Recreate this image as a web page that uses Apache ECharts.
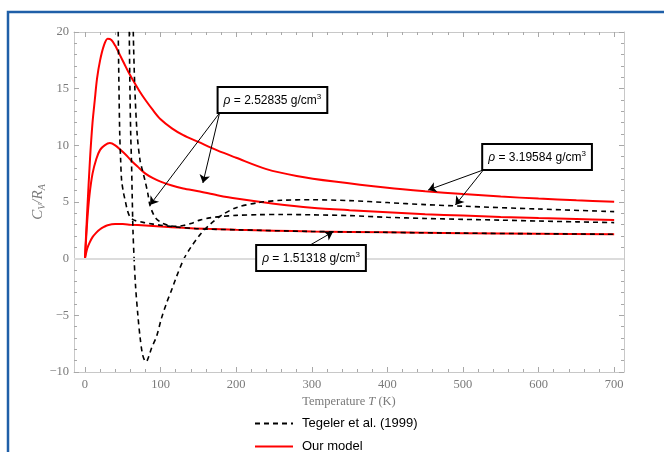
<!DOCTYPE html>
<html>
<head>
<meta charset="utf-8">
<script src="https://cdn.jsdelivr.net/npm/echarts@6/dist/echarts.min.js"></script>
<style>html,body{margin:0;padding:0;background:#fff}#main{width:664px;height:452px}</style>
</head>
<body>
<div id="main"></div>
<script>
const myChart = echarts.init(document.getElementById('main'));

// tick labels
const xTicks = [0, 100, 200, 300, 400, 500, 600, 700];
const xMinorTicks = [];
for (let t = 20; t < 700; t += 20) { if (t % 100 !== 0) xMinorTicks.push(t); }

// Our model (red) - temperature / Cv/R
const redHighT = [0, 3, 6.6, 10, 13, 16, 20, 25, 30, 35, 40, 46, 52, 58, 64, 72, 80, 90, 100, 115, 130, 150, 175, 200, 240, 280, 330, 400, 450, 500, 550, 600, 650, 700];
const redHighC = [0, 4.2, 8.7, 12, 14, 15.9, 17.5, 18.8, 19.4, 19.3, 18.8, 18.0, 17.2, 16.4, 15.7, 14.8, 14.0, 13.1, 12.3, 11.5, 10.9, 10.3, 9.55, 8.9, 7.9, 7.3, 6.8, 6.25, 5.95, 5.7, 5.48, 5.3, 5.15, 5.03];
const redMidT = [0, 3, 6, 10, 15, 20, 26, 33, 40, 47, 55, 62, 70, 80, 90, 100, 115, 130, 150, 175, 200, 250, 300, 350, 400, 450, 500, 550, 600, 650, 700];
const redMidC = [0, 3.3, 5.6, 7.5, 8.8, 9.6, 10.0, 10.2, 10.0, 9.6, 9.1, 8.6, 8.1, 7.5, 7.1, 6.8, 6.45, 6.2, 5.95, 5.6, 5.3, 4.85, 4.5, 4.28, 4.1, 3.93, 3.8, 3.68, 3.58, 3.5, 3.42];
const redLowT = [0, 3, 6, 10, 15, 20, 25, 30, 40, 50, 60, 80, 100, 130, 160, 200, 250, 300, 400, 500, 600, 700];
const redLowC = [0, 0.9, 1.4, 1.9, 2.3, 2.6, 2.8, 2.95, 3.05, 3.05, 3.0, 2.92, 2.83, 2.72, 2.63, 2.55, 2.47, 2.4, 2.32, 2.25, 2.2, 2.15];

// Tegeler et al. (black dashed)
const tegLowT = [43.3, 44, 45, 46, 47.2, 48.5, 51, 53, 56, 59.5, 65, 77, 90, 100, 120, 150, 200, 300, 400, 500, 600, 700];
const tegLowC = [24, 20, 15, 11, 8.7, 6.9, 5.8, 5.2, 4.3, 3.7, 3.4, 3.2, 3.05, 2.95, 2.8, 2.64, 2.55, 2.4, 2.32, 2.25, 2.2, 2.15];
const tegHighT = [58, 58.6, 59.5, 60.5, 61.5, 62.5, 63.5, 65, 67, 70, 73, 76, 79, 81, 84, 88, 95, 101, 108, 115, 121, 131, 140, 152, 165, 180, 200, 230, 260, 300, 350, 400, 450, 500, 600, 700];
const tegHighC = [24, 20, 15, 11, 8.7, 5.5, 2.5, 0, -2.5, -5, -7, -8.4, -9.0, -9.1, -8.7, -7.9, -6.8, -5.3, -3.9, -2.7, -1.6, 0, 1.0, 2.1, 3.0, 3.8, 4.5, 4.95, 5.15, 5.2, 5.12, 4.95, 4.77, 4.63, 4.38, 4.15];
const tegMidT = [63.4, 63.9, 66, 69, 72.8, 76, 79.4, 83, 86, 90, 94, 99, 105, 112, 121, 130, 140, 152, 165, 180, 200, 230, 260, 300, 350, 400, 450, 500, 550, 600, 650, 700];
const tegMidC = [24, 20, 15, 11, 8.7, 7.8, 6.9, 5.8, 4.7, 4.0, 3.55, 3.27, 3.05, 2.9, 2.85, 2.92, 3.1, 3.4, 3.6, 3.72, 3.82, 3.88, 3.9, 3.87, 3.8, 3.65, 3.55, 3.47, 3.4, 3.32, 3.25, 3.18];

function zip(t, c) { return t.map((x, i) => [x, c[i]]); }

const labelFont = 'Liberation Serif';
const frameColor = '#c8c8c8';
const tickColor = '#a8a8a8';

function xAxisCfg(pos, ticks, len, main) {
  return {
    type: 'value', position: pos, min: -14.5, max: 713,
    axisLine: { show: main, onZero: false, lineStyle: { color: frameColor, width: 1 } },
    axisTick: { show: true, inside: true, length: len, customValues: ticks, lineStyle: { color: tickColor } },
    axisLabel: { show: false },
    splitLine: { show: false }
  };
}

const redStyle = { color: '#ff0000', width: 2 };
const dashStyle = { color: '#000', width: 1.6, type: [5, 4] };

function curve(name, data, style) {
  return {
    name: name, type: 'line', data: data, showSymbol: false, symbol: 'none',
    smooth: 0.3, lineStyle: style, itemStyle: { color: style.color },
    z: style === redStyle ? 3 : 4, silent: true
  };
}

const boxLabel = {
  show: true, position: 'inside', color: '#000', fontSize: 12, fontFamily: 'Liberation Sans',
  backgroundColor: '#fff', borderColor: '#000', borderWidth: 2, padding: [5, 5, 4, 5],
  rich: {
    i: { fontStyle: 'italic', fontSize: 12, fontFamily: 'Liberation Sans', color: '#000' },
    s: { fontSize: 8, fontFamily: 'Liberation Sans', color: '#000', padding: [0, 0, 7, 0] }
  }
};

const minus = v => String(v).replace('-', '\u2212');

const bottomX = xAxisCfg('bottom', xTicks, 5, true);
bottomX.axisLabel = { show: true, customValues: xTicks, color: '#7a7a7a', fontSize: 12.5, fontFamily: labelFont, margin: 6 };
bottomX.name = 'Temperature {it|T} (K)';
bottomX.nameLocation = 'middle';
bottomX.nameGap = 23;
bottomX.nameMoveOverlap = false;
bottomX.nameTextStyle = {
  color: '#7a7a7a', fontSize: 12.5, fontFamily: labelFont,
  rich: { it: { fontStyle: 'italic', fontSize: 12.5, fontFamily: labelFont, color: '#7a7a7a' } }
};

function yAxisCfg(pos, labels) {
  return {
    type: 'value', position: pos, min: -10, max: 20, interval: 5,
    axisLine: { show: true, onZero: false, lineStyle: { color: frameColor, width: 1 } },
    axisTick: { show: true, inside: true, length: 5, lineStyle: { color: tickColor } },
    minorTick: { show: true, splitNumber: 5, length: 3, lineStyle: { color: tickColor } },
    axisLabel: { show: labels, color: '#7a7a7a', fontSize: 12.5, fontFamily: labelFont, margin: 5, formatter: minus },
    splitLine: { show: false }
  };
}
const leftY = yAxisCfg('left', true);
leftY.name = '{it|C}{sub|V}{it|/R}{sub|A}';
leftY.nameLocation = 'middle';
leftY.nameGap = 27;
leftY.nameMoveOverlap = false;
leftY.nameTextStyle = {
  color: '#7a7a7a',
  rich: {
    it: { fontStyle: 'italic', fontSize: 15, fontFamily: labelFont, color: '#7a7a7a' },
    sub: { fontStyle: 'italic', fontSize: 10, fontFamily: labelFont, color: '#7a7a7a', padding: [7, 0, 0, 0] }
  }
};

const option = {
  backgroundColor: '#fff',
  animation: false,
  grid: { left: 74, top: 32, right: 40, bottom: 80, containLabel: false },
  legend: {
    data: ['Tegeler et al. (1999)', 'Our model'],
    orient: 'vertical', left: 254, top: 417, height: 60, padding: 0,
    itemWidth: 38, itemHeight: 14, itemGap: 10,
    itemStyle: { opacity: 0 },
    textStyle: { fontSize: 13, fontFamily: 'Liberation Sans', color: '#000', padding: [0, 0, 0, 4] }
  },
  xAxis: [
    bottomX,
    xAxisCfg('bottom', xMinorTicks, 3, false),
    xAxisCfg('top', xTicks, 5, true),
    xAxisCfg('top', xMinorTicks, 3, false)
  ],
  yAxis: [leftY, yAxisCfg('right', false)],
  series: [
    // horizontal line at zero
    {
      name: 'zero', type: 'line', data: [], z: 1, silent: true,
      markLine: {
        silent: true, symbol: 'none', label: { show: false },
        lineStyle: { color: '#dcdcdc', width: 2, type: 'solid' },
        data: [{ yAxis: 0 }]
      }
    },
    curve('Our model', zip(redHighT, redHighC), redStyle),
    curve('Our model', zip(redMidT, redMidC), redStyle),
    curve('Our model', zip(redLowT, redLowC), redStyle),
    curve('Tegeler et al. (1999)', zip(tegLowT, tegLowC), dashStyle),
    curve('Tegeler et al. (1999)', zip(tegHighT, tegHighC), dashStyle),
    curve('Tegeler et al. (1999)', zip(tegMidT, tegMidC), dashStyle),
    // annotation boxes and arrows
    {
      name: 'notes', type: 'line', data: [], z: 10, silent: true,
      markPoint: {
        silent: true, symbol: 'circle', symbolSize: 1, itemStyle: { color: 'rgba(0,0,0,0)' },
        label: boxLabel,
        data: [
          { coord: [248, 14.0], label: { formatter: '{i|ρ} = 2.52835 g/cm{s|3}' } },
          { coord: [598, 8.98], label: { formatter: '{i|ρ} = 3.19584 g/cm{s|3}' } },
          { coord: [299, 0.06], label: { formatter: '{i|ρ} = 1.51318 g/cm{s|3}' } }
        ]
      },
      markLine: {
        silent: true, symbol: ['none', 'arrow'], symbolSize: 8, label: { show: false },
        lineStyle: { color: '#000', width: 1, type: 'solid' },
        data: [
          [{ coord: [178, 12.85] }, { coord: [86, 4.74] }],
          [{ coord: [178, 12.85] }, { coord: [156, 6.68] }],
          [{ coord: [527, 7.83] }, { coord: [454, 6.06] }],
          [{ coord: [527, 7.83] }, { coord: [490, 4.74] }],
          [{ coord: [298, 1.21] }, { coord: [328, 2.36] }]
        ]
      }
    }
  ],
  graphic: [{
    type: 'polyline', silent: true,
    shape: { points: [[8, 452], [8, 12], [664, 12]] },
    style: { stroke: '#1f5fa8', lineWidth: 2.5, fill: null }
  }]
};
myChart.setOption(option);
</script>
</body>
</html>
